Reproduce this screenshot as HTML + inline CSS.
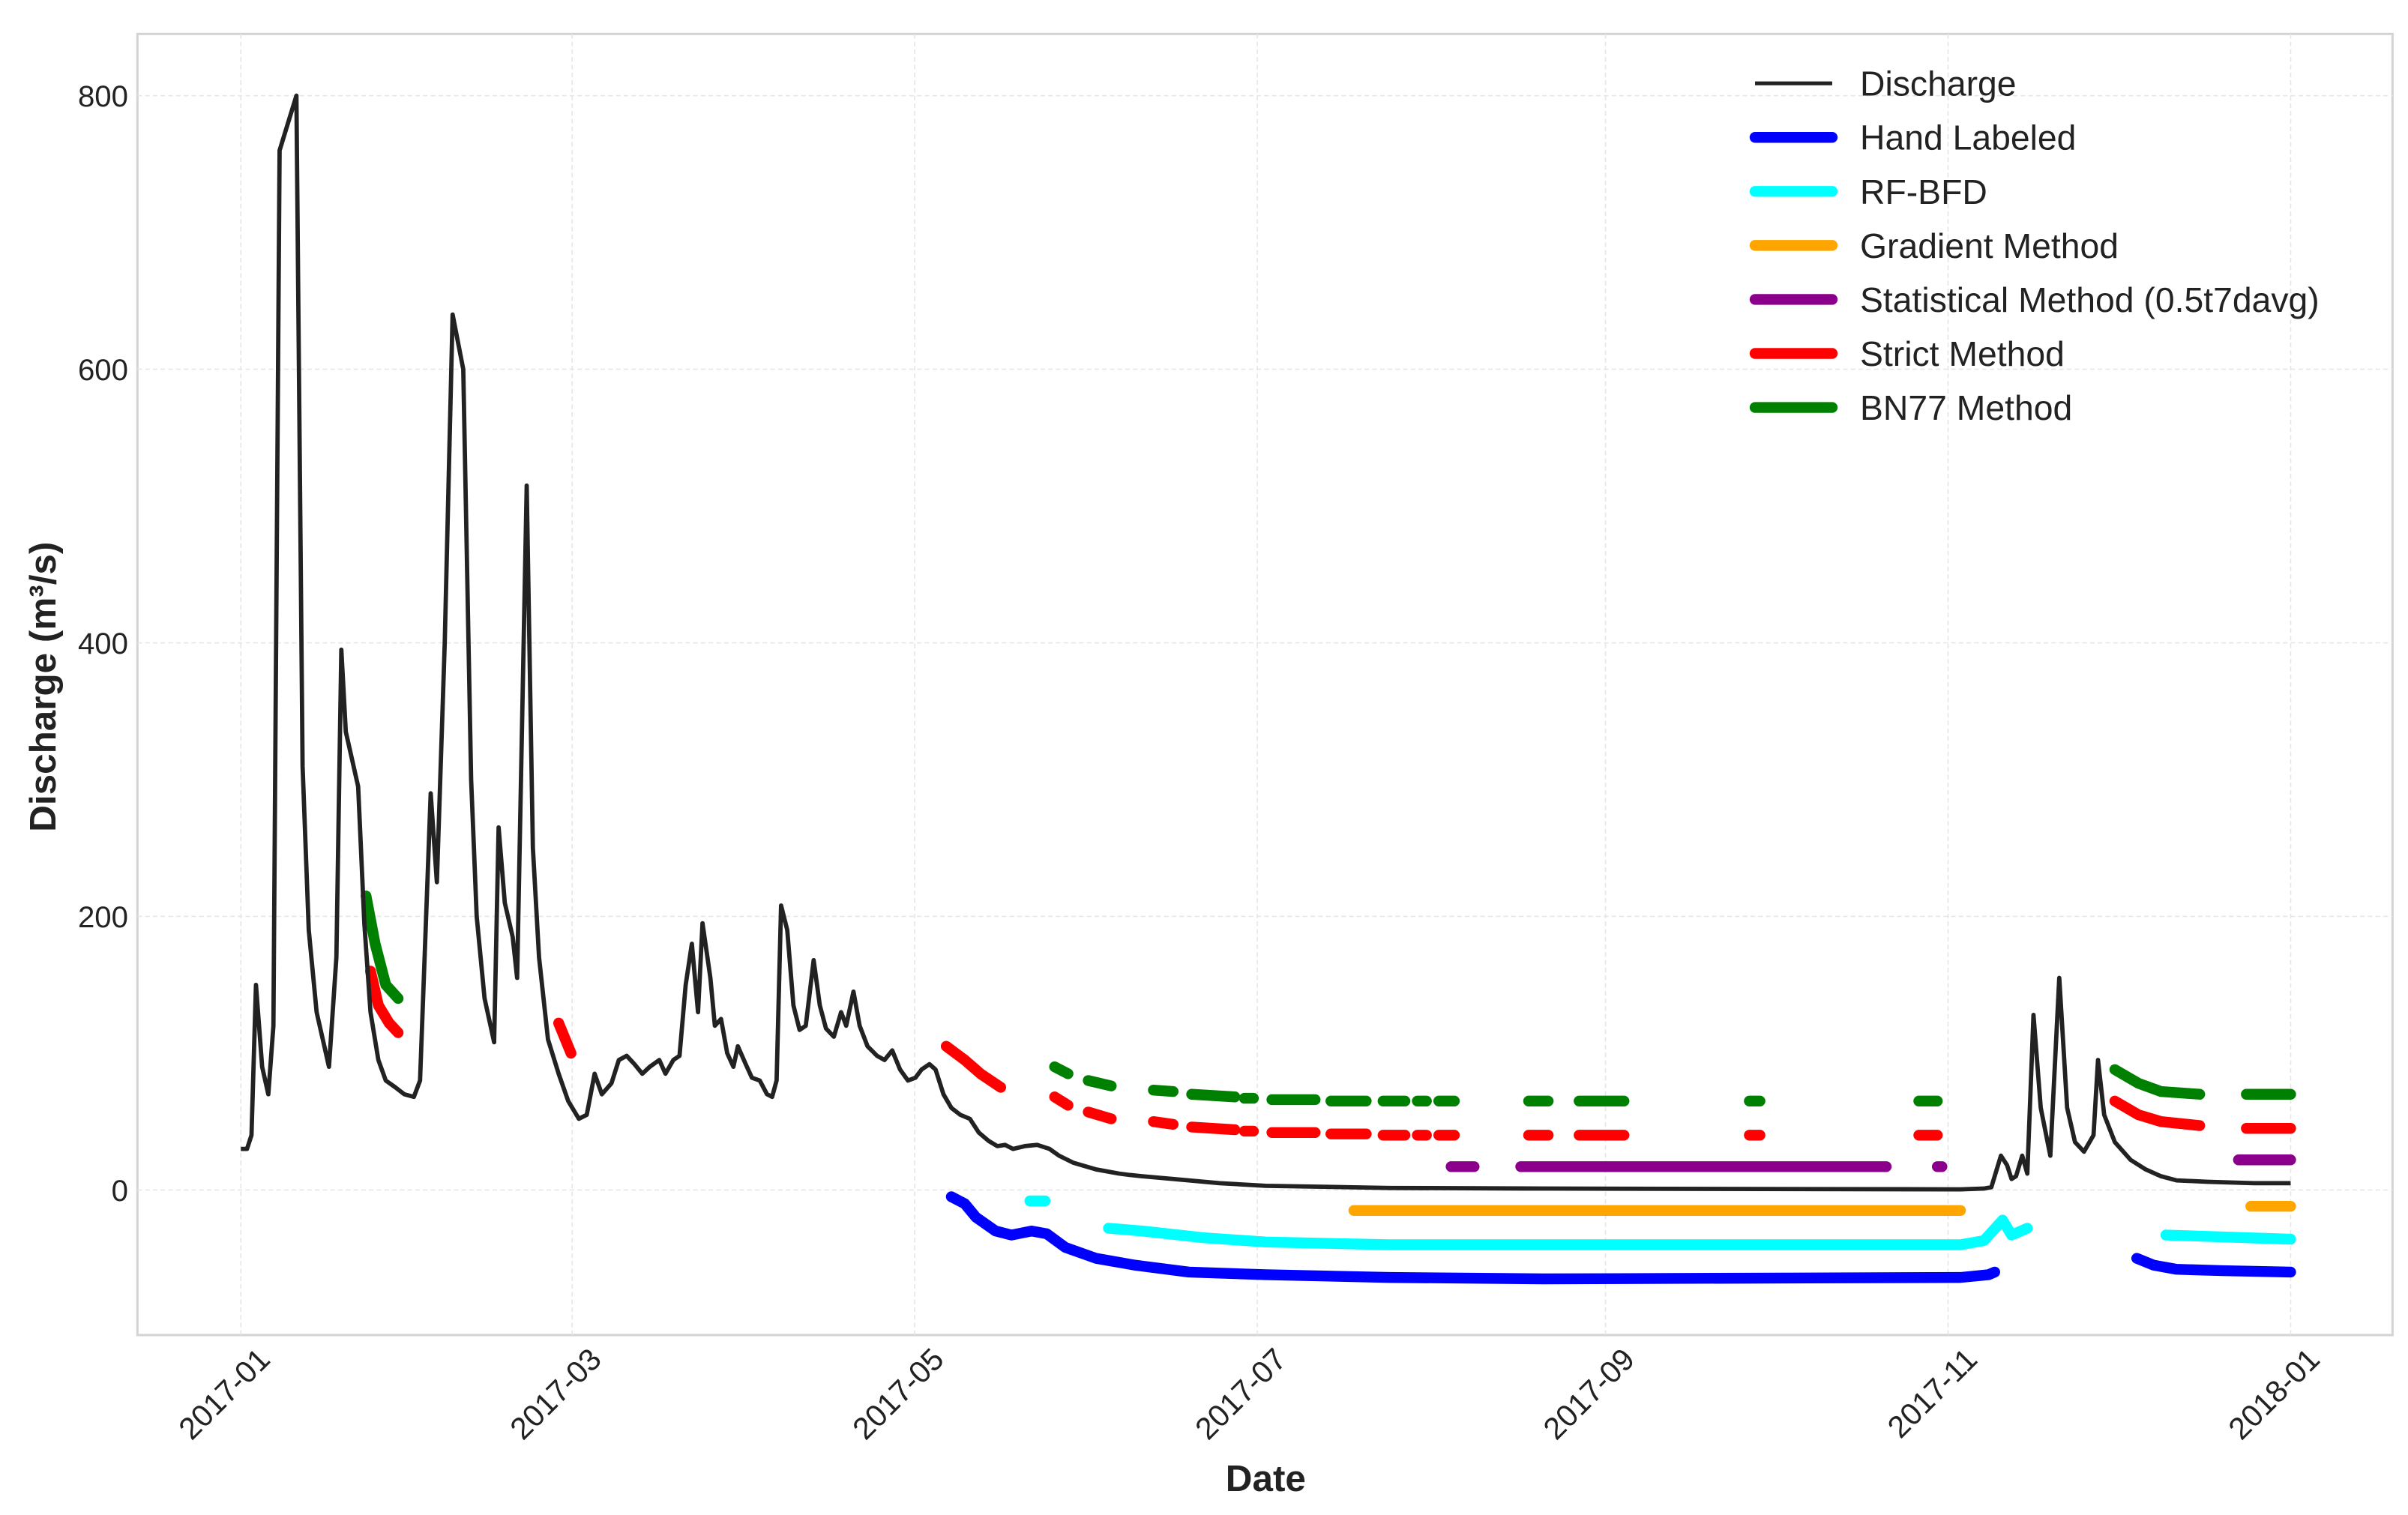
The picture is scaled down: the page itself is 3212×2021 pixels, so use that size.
<!DOCTYPE html>
<html><head><meta charset="utf-8"><style>
html,body{margin:0;padding:0;background:#fff;}
svg{display:block;font-family:"Liberation Sans",sans-serif;}
</style></head><body>
<svg id="chart" width="3212" height="2021" viewBox="0 0 1560 981.6" xmlns="http://www.w3.org/2000/svg">
<rect x="89" y="22" width="1461" height="843" fill="#fff" stroke="#d4d4d4" stroke-width="1.5"/>
<g id="grid"></g>
<g id="ticks"></g>
<g id="series"></g>
<text x="36" y="445" transform="rotate(-90 36 445)" text-anchor="middle" font-size="24" font-weight="bold" fill="#222">Discharge (m³/s)</text>
<text x="820" y="966" text-anchor="middle" font-size="24" font-weight="bold" fill="#222">Date</text>
<g id="legend"></g>
</svg>
<script>
const dischargeDays=[0,1.1,1.9,2.7,3.8,4.9,5.8,6.9,9.9,11,12.1,13.5,15.7,17,17.9,18.7,20.9,22,23.1,24.5,25.8,27.5,29.1,30.8,31.9,33.8,34.9,36.3,37.7,39.6,41,42,43.4,45.1,45.9,47,48.4,49.2,50.9,52,53.1,54.7,56.6,58.3,60.2,61.6,63,64.3,66,67.3,68.7,70.1,71.5,72.8,74.5,75.6,77,78.1,79.2,80.3,81.4,82.2,83.6,84.4,85.5,86.6,87.7,88.5,89.9,91,92.4,93.7,94.6,95.4,96.2,97.3,98.4,99.5,100.6,102,103.1,104.2,105.6,106.9,107.8,109.1,110.2,111.6,113.3,114.6,116,117.4,118.8,120.1,121.2,122.6,123.7,125.1,126.5,128.1,129.8,131.4,133.1,134.7,136.1,137.5,139.6,141.8,144,145.7,148.2,152.3,156.4,158.3,160.5,166,174.3,182.5,204.5,232,306.2,310.4,311.7,313.4,314.5,315.3,316.1,317.2,318.1,319.2,320.5,322.2,323.8,325.2,326.6,328.2,329.9,330.7,331.8,333.7,336.5,339.2,341.9,344.7,350.2,358.5,365];
const dischargeValues=[30,30,40,150,90,70,120,760,800,310,190,130,90,170,395,335,295,195,130,95,80,75,70,68,80,290,225,400,640,600,300,200,140,108,265,210,185,155,515,250,170,110,85,65,52,55,85,70,78,95,98,92,85,90,95,85,95,98,150,180,130,195,155,120,125,100,90,105,92,82,80,70,68,80,208,190,135,117,120,168,135,118,112,130,120,145,120,105,98,95,102,88,80,82,88,92,88,70,60,55,52,42,36,32,33,30,32,33,30,25,20,15,12,11,10,8,5,3,1.5,1,0.5,1,2,25,18,8,10,25,12,128,60,25,155,60,35,28,40,95,55,35,22,15,10,7,6,5,5];
const handDays=[[126.5,128.9,130.9,134.4,137.2,140.8,143.5,146.8,152.3,159.2,168.8,182.5,204.5,232,306.2,311.2,312.3],[337.6,340.6,344.7,353,365]];
const handValues=[[-5,-10,-20,-30,-33,-30,-32,-42,-50,-55,-60,-62,-64,-65,-64,-62,-60],[-50,-55,-58,-59,-60]];
const rfDays=[[140.5,143.2],[154.5,160.5,171.5,182.5,204.5,306.2,310.4,313.7,315.3,318.1],[342.8,365]];
const rfValues=[[-8,-8],[-28,-30,-35,-38,-40,-40,-37,-22,-33,-28],[-33,-36]];
const gradDays=[[198.2,306.2],[357.9,365]];
const gradValues=[[-15,-15],[-12,-12]];
const statDays=[[215.5,219.6],[227.9,293],[302.1,302.9],[355.7,365]];
const statValues=[[17,17],[17,17],[17,17],[22,22]];
const strictDays=[[23.1,24.5,26.4,28],[56.6,58.8],[125.6,128.9,131.7,135.3],[144.9,147.3],[150.9,155],[162.5,166],[169.3,177],[178.7,180.3],[183.6,191.3],[194.1,200.4],[203.4,207.3],[209.5,211.1],[213.3,216.1],[229.3,232.8],[238.3,246.3],[268.6,270.5],[298.8,302.1],[333.7,337.9,341.9,348.8],[357.1,365]];
const strictValues=[[160,135,122,115],[122,100],[105,95,85,75],[68,62],[57,52],[50,48],[46,44],[43,43],[42,42],[41,41],[40,40],[40,40],[40,40],[40,40],[40,40],[40,40],[40,40],[65,55,50,47],[45,45]];
const bnDays=[[22.3,23.9,25.8,28],[144.9,147.3],[150.9,155],[162.5,166],[169.3,177],[178.7,180.3],[183.6,191.3],[194.1,200.4],[203.4,207.3],[209.5,211.1],[213.3,216.1],[229.3,232.8],[238.3,246.3],[268.6,270.5],[298.8,302.1],[333.7,337.9,341.9,348.8],[357.1,365]];
const bnValues=[[215,180,150,140],[90,85],[80,76],[73,72],[70,68],[67,67],[66,66],[65,65],[65,65],[65,65],[65,65],[65,65],[65,65],[65,65],[65,65],[88,78,72,70],[70,70]];
const yTicks=[0,200,400,600,800];
const xTickDays=[0,59,120,181,243,304,365];
const xTickLabels=["2017-01","2017-03","2017-05","2017-07","2017-09","2017-11","2018-01"];
const legendLabels=["Discharge","Hand Labeled","RF-BFD","Gradient Method","Statistical Method (0.5t7davg)","Strict Method","BN77 Method"];
const legendColors=["#222","#0000ff","#00ffff","#ffa500","#8b008b","#ff0000","#008000"];

const NS="http://www.w3.org/2000/svg";
function xs(d){return 156+d*(1328/365);}
function ys(v){return 771-v*(709/800);}
function mk(tag,attrs,parent){const e=document.createElementNS(NS,tag);for(const k in attrs)e.setAttribute(k,attrs[k]);parent.appendChild(e);return e;}
const grid=document.getElementById('grid'),ticks=document.getElementById('ticks'),series=document.getElementById('series'),legend=document.getElementById('legend');
yTicks.forEach(v=>{
  const l=mk('line',{x1:89,x2:1550,y1:ys(v),y2:ys(v),stroke:'#e6e6e6','stroke-width':0.8,'stroke-dasharray':'3,2'},grid);
  
  
  const t=mk('text',{x:83,y:ys(v)+7,'text-anchor':'end','font-size':19.5,fill:'#222'},ticks);
  t.textContent=v;
  
  
});
xTickDays.forEach((d,i)=>{
  const x=xs(d);
  const l=mk('line',{x1:x,x2:x,y1:22,y2:865,stroke:'#e6e6e6','stroke-width':0.8,'stroke-dasharray':'3,2'},grid);
  
  
  const tx=x+20, ty=882;
  const t=mk('text',{x:tx,y:ty,'text-anchor':'end','font-size':20,fill:'#222',transform:`rotate(-45 ${tx} ${ty})`},ticks);
  t.textContent=xTickLabels[i];
  
  
});
function pathOf(ds,vs){return ds.map((d,i)=>(i?'L':'M')+xs(d).toFixed(1)+','+ys(vs[i]).toFixed(1)).join('');}
function drawSegs(dayArr,valArr,color,name){
  dayArr.forEach((ds,i)=>{
    const p=mk('path',{d:pathOf(ds,valArr[i]),fill:'none',stroke:color,'stroke-width':7,'stroke-linecap':'round','stroke-linejoin':'round'},series);
    
    
  });
}
drawSegs(handDays,handValues,'#0000ff','hand-labeled-line');
drawSegs(rfDays,rfValues,'#00ffff','rf-bfd-line');
drawSegs(gradDays,gradValues,'#ffa500','gradient-method-line');
drawSegs(statDays,statValues,'#8b008b','statistical-method-line');
drawSegs(strictDays,strictValues,'#ff0000','strict-method-line');
drawSegs(bnDays,bnValues,'#008000','bn77-method-line');
const dl=mk('path',{d:pathOf(dischargeDays,dischargeValues),fill:'none',stroke:'#222','stroke-width':2.8,'stroke-linejoin':'round'},series);


legendLabels.forEach((lab,i)=>{
  const y=54+i*35;
  const l=mk('line',{x1:1137,x2:1187,y1:y,y2:y,stroke:legendColors[i],'stroke-width':i?7:2.5,'stroke-linecap':i?'round':'butt'},legend);
  
  
  const t=mk('text',{x:1205,y:y+8,'font-size':22.5,fill:'#222'},legend);
  t.textContent=lab;
  
  
});
</script>
</body></html>
